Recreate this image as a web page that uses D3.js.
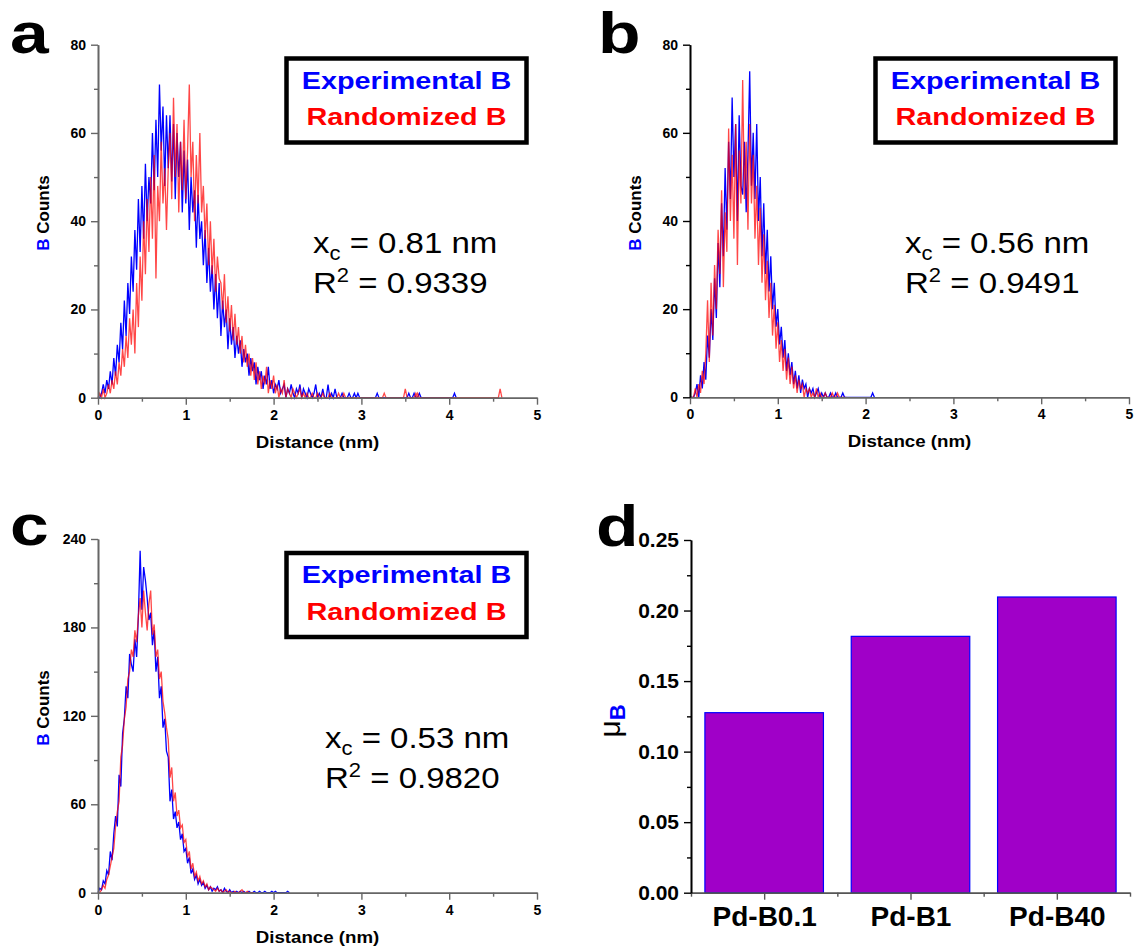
<!DOCTYPE html>
<html>
<head>
<meta charset="utf-8">
<script src="https://cdn.jsdelivr.net/npm/d3@7"></script>
<style>
  body { margin: 0; background: #fff; }
  svg { display: block; }
  text { font-family: "Liberation Sans", Arial, sans-serif; }
</style>
</head>
<body>
<svg id="fig" width="1135" height="949"></svg>
<script>
// ---------------- data ----------------
const binWidth = 0.02; // nm, histogram bin width; value i sits at i * binWidth

// Panel a: Pd-B0.1 (counts per bin from 0 nm)
const expA = [
  0,0,1,3,1,4,2,6,3,9,
  5,12,8,17,11,22,14,26,19,32,
  24,38,29,45,33,48,36,53,40,50,
  44,60,47,63,50,71,56,66,48,64,
  52,64,49,62,45,60,50,58,42,56,
  44,54,38,50,42,47,34,46,36,40,
  30,38,26,34,24,30,20,28,18,26,
  14,22,16,20,11,18,12,16,9,14,
  10,13,7,11,8,10,5,9,6,8,
  3,7,4,6,2,5,3,7,2,4,
  1,3,2,4,1,2,3,0,2,1,
  3,1,0,2,1,3,0,2,1,0,
  2,1,0,1,3,0,1,0,2,0];
const randA = [
  0,1,0,2,0,1,3,1,4,2,
  6,3,8,5,11,7,14,9,18,12,
  20,10,26,16,32,22,40,28,45,33,
  50,36,55,27,48,40,58,44,52,38,
  52,60,45,68,50,62,42,58,47,63,
  45,56,71,50,58,40,55,44,60,42,
  48,36,44,30,40,28,36,24,32,27,
  26,20,28,17,23,15,21,13,19,12,
  16,10,14,8,12,7,10,5,9,4,
  8,3,6,2,5,3,7,1,4,2,
  5,1,3,0,2,1,4,0,2,1,
  0,2,1,0,1,2,0,1,0,1,
  0,0,1,0,0,1,0,0,1,0];
// isolated counts beyond the main peak: [distance nm, count]
const expATail = [[2.62,3],[2.66,1],[2.70,2],[2.78,1],[2.86,1],[2.92,1],[2.96,1],[3.18,1],[3.54,1],[3.60,1],[3.66,1],[4.06,1]];
const randATail = [[2.64,1],[2.74,1],[2.80,1],[3.26,1],[3.50,2],[3.62,1],[3.64,1],[4.58,2]];

// Panel b: Pd-B1
const expB = [
  0,0,0,1,3,0,5,2,8,4,
  14,9,20,13,27,18,35,25,44,32,
  52,38,58,45,68,50,62,40,64,48,
  46,58,42,55,74,48,60,45,62,40,
  50,32,44,28,38,24,32,20,26,16,
  20,12,16,9,13,6,10,5,8,3,
  6,2,5,1,4,2,3,0,2,1,
  2,0,1,2,0,1,0,1,0,0,
  1,0,0,1,0,0,0,1,0,0];
const randB = [
  0,0,0,2,0,3,1,6,3,10,
  22,8,26,14,30,20,38,28,47,25,
  42,33,61,40,55,36,62,30,56,44,
  72,45,58,38,62,44,55,36,48,30,
  43,26,37,22,31,18,26,14,21,11,
  17,8,13,6,11,4,9,3,7,2,
  5,1,4,2,3,0,2,1,2,0,
  1,0,2,0,1,0,0,1,0,0,
  0,1,0,0,1,0,0,0,0,0];
const expBTail = [[2.08,1]];
const randBTail = [];

// Panel c: Pd-B40
const expC = [
  0,3,2,8,6,15,12,28,22,40,
  52,45,80,72,108,118,140,132,162,155,
  150,172,160,188,232,192,221,212,200,185,
  190,168,178,150,160,132,140,112,118,96,
  92,62,70,50,55,44,48,36,40,28,
  30,20,24,13,16,9,12,6,9,5,
  7,3,5,2,4,1,3,2,4,1,
  2,0,3,1,0,2,0,1,0,1,
  0,1,0,1,0,0,1,0,0,1,
  0,0,1,0,0,1,0,0,0,1,
  0,1,0,0,0,0,0,0,1,0];
const randC = [
  0,0,2,5,3,9,12,18,24,30,
  45,55,62,92,100,118,126,145,150,165,
  160,178,170,188,200,180,205,190,178,196,
  205,175,182,160,165,145,150,130,122,112,
  104,78,85,62,68,52,56,44,46,34,
  36,24,28,16,20,11,14,8,11,6,
  8,4,6,2,4,3,2,1,3,1,
  2,0,1,2,0,1,0,0,1,0,
  0,1,2,0,0,1,0,0,0,0];
const expCTail = [];
const randCTail = [];

// Panel d: mean B value per sample
const muCategories = ["Pd-B0.1", "Pd-B1", "Pd-B40"];
const muValues = [0.1276, 0.1817, 0.2096];

// axis ticks
const distTicks = [0, 1, 2, 3, 4, 5];
const distMinor = [0.5, 1.5, 2.5, 3.5, 4.5];
const countTicks80 = [0, 20, 40, 60, 80];
const countMinor80 = [10, 30, 50, 70];
const countTicks240 = [0, 60, 120, 180, 240];
const countMinor240 = [30, 90, 150, 210];
const muTicks = [0, 0.05, 0.10, 0.15, 0.20, 0.25];
const muMinor = [0.025, 0.075, 0.125, 0.175, 0.225];

// text
const legendLabels = ["Experimental B", "Randomized B"];
const fitCentres = ["0.81", "0.56", "0.53"];
const fitR2 = ["0.9339", "0.9491", "0.9820"];
const panelLetters = ["a", "b", "c", "d"];

// ---------------- drawing ----------------
const svg = d3.select("#fig");
const BLUE = "#0000ff", RED = "#ff0000";

function series(head, tail) {
  const pts = head.map((v, i) => [i * binWidth, v]);
  tail.forEach(([x, v]) => {
    pts.push([x - binWidth, 0], [x, v], [x + binWidth, 0]);
  });
  return pts;
}

function axisStyle(g, color) {
  g.select(".domain").attr("stroke", color).attr("stroke-width", 1.6);
  g.selectAll(".tick line").attr("stroke", color).attr("stroke-width", 1.4);
  g.selectAll(".tick text").attr("fill", "#000").style("font-weight", "bold");
}

function histPanel(p) {
  const g = svg.append("g");
  const x = d3.scaleLinear().domain([0, 5]).range([p.left, p.right]);
  const y = d3.scaleLinear().domain([0, p.yMax]).range([p.bottom, p.top]);
  const line = d3.line().x(d => x(d[0])).y(d => y(d[1]));

  g.append("path").datum(series(p.exp, p.expTail))
    .attr("d", line).attr("fill", "none").attr("stroke", BLUE).attr("stroke-width", 1.3);
  g.append("path").datum(series(p.rand, p.randTail))
    .attr("d", line).attr("fill", "none").attr("stroke", RED).attr("stroke-width", 1.3)
    .attr("stroke-opacity", 0.72);

  // minor ticks
  const gxm = g.append("g").attr("transform", `translate(0,${p.bottom})`)
    .call(d3.axisBottom(x).tickValues(distMinor).tickSize(4).tickSizeOuter(0).tickFormat(""));
  axisStyle(gxm, p.xColor);
  const gym = g.append("g").attr("transform", `translate(${p.left},0)`)
    .call(d3.axisLeft(y).tickValues(p.yMinor).tickSize(4).tickSizeOuter(0).tickFormat(""));
  axisStyle(gym, p.yColor);
  // major ticks
  const gx = g.append("g").attr("transform", `translate(0,${p.bottom})`)
    .call(d3.axisBottom(x).tickValues(distTicks).tickSize(7).tickSizeOuter(0).tickPadding(5).tickFormat(d3.format("d")));
  axisStyle(gx, p.xColor);
  gx.selectAll(".tick text").style("font-size", "14px");
  const gy = g.append("g").attr("transform", `translate(${p.left},0)`)
    .call(d3.axisLeft(y).tickValues(p.yTicks).tickSize(7).tickSizeOuter(0).tickPadding(5).tickFormat(d3.format("d")));
  axisStyle(gy, p.yColor);
  gy.selectAll(".tick text").style("font-size", "14px");

  // axis titles
  g.append("g").attr("transform", `translate(${(p.left + p.right) / 2},${p.bottom + 50}) scale(1.1,1)`)
    .append("text").attr("text-anchor", "middle").style("font-size", "17px").style("font-weight", "bold")
    .text("Distance (nm)");
  const yl = g.append("text")
    .attr("transform", `translate(${p.ylabX},${p.ylabY}) rotate(-90)`)
    .attr("text-anchor", "middle").style("font-size", "17px").style("font-weight", "bold");
  yl.append("tspan").attr("fill", BLUE).text("B");
  yl.append("tspan").attr("fill", "#000").text(" Counts");

  // legend box
  g.append("rect").attr("x", p.legX).attr("y", p.legY).attr("width", 240).attr("height", 84)
    .attr("fill", "#fff").attr("stroke", "#000").attr("stroke-width", 4.5);
  const cx = p.legX + 120;
  [BLUE, RED].forEach((c, i) => {
    g.append("g").attr("transform", `translate(${cx},${p.legY + 30 + i * 36.7}) scale(1.2,1)`)
      .append("text").attr("text-anchor", "middle").attr("fill", c)
      .style("font-size", "24px").style("font-weight", "bold").text(legendLabels[i]);
  });

  // fit annotation
  const t1 = g.append("g").attr("transform", `translate(${p.noteX},${p.noteY}) scale(1.1,1)`)
    .append("text").style("font-size", "30px").attr("fill", "#000");
  t1.append("tspan").text("x");
  t1.append("tspan").attr("dy", 7).style("font-size", "20px").text("c");
  t1.append("tspan").attr("dy", -7).text(` = ${fitCentres[p.idx]} nm`);
  const t2 = g.append("g").attr("transform", `translate(${p.noteX},${p.noteY + 39.5}) scale(1.1,1)`)
    .append("text").style("font-size", "30px").attr("fill", "#000");
  t2.append("tspan").text("R");
  t2.append("tspan").attr("dy", -11).style("font-size", "20px").text("2");
  t2.append("tspan").attr("dy", 11).text(` = ${fitR2[p.idx]}`);
}

histPanel({ idx: 0, left: 98, right: 537, top: 44.7, bottom: 397.7, yMax: 80,
  yTicks: countTicks80, yMinor: countMinor80, exp: expA, rand: randA, expTail: expATail, randTail: randATail,
  xColor: "#666", yColor: "#666", ylabX: 48.5, ylabY: 213, legX: 286.5, legY: 58.5, noteX: 313, noteY: 253 });
histPanel({ idx: 1, left: 690, right: 1129, top: 44.7, bottom: 397.3, yMax: 80,
  yTicks: countTicks80, yMinor: countMinor80, exp: expB, rand: randB, expTail: expBTail, randTail: randBTail,
  xColor: "#666", yColor: "#000", ylabX: 641, ylabY: 213, legX: 875.5, legY: 58.5, noteX: 905, noteY: 253 });
histPanel({ idx: 2, left: 98, right: 537, top: 539, bottom: 892.7, yMax: 240,
  yTicks: countTicks240, yMinor: countMinor240, exp: expC, rand: randC, expTail: expCTail, randTail: randCTail,
  xColor: "#666", yColor: "#666", ylabX: 48.5, ylabY: 708, legX: 286.5, legY: 553, noteX: 325, noteY: 748 });

// ---- panel d: bar chart ----
(function () {
  const left = 691, right = 1130, top = 540, bottom = 892.7;
  const g = svg.append("g");
  const x = d3.scaleLinear().domain([0.5, muCategories.length + 0.5]).range([left, right]);
  const y = d3.scaleLinear().domain([0, 0.25]).range([bottom, top]);
  const bw = 0.81;
  g.selectAll("rect.bar").data(muValues).join("rect").attr("class", "bar")
    .attr("x", (d, i) => x(i + 1 - bw / 2)).attr("width", x(1 + bw / 2) - x(1 - bw / 2))
    .attr("y", d => y(d)).attr("height", d => y(0) - y(d))
    .attr("fill", "#a000c8").attr("stroke", BLUE).attr("stroke-width", 1.2);

  const gxm = g.append("g").attr("transform", `translate(0,${bottom})`)
    .call(d3.axisBottom(x).tickValues([0.5, 1.5, 2.5, 3.5]).tickSize(4).tickSizeOuter(0).tickFormat(""));
  axisStyle(gxm, "#555");
  const gx = g.append("g").attr("transform", `translate(0,${bottom})`)
    .call(d3.axisBottom(x).tickValues([1, 2, 3]).tickSize(7).tickSizeOuter(0).tickPadding(6)
      .tickFormat((d) => muCategories[d - 1]));
  axisStyle(gx, "#555");
  gx.selectAll(".tick text").style("font-size", "28px");

  const gym = g.append("g").attr("transform", `translate(${left},0)`)
    .call(d3.axisLeft(y).tickValues(muMinor).tickSize(4).tickSizeOuter(0).tickFormat(""));
  axisStyle(gym, "#000");
  const gy = g.append("g").attr("transform", `translate(${left},0)`)
    .call(d3.axisLeft(y).tickValues(muTicks).tickSize(7).tickSizeOuter(0).tickPadding(5).tickFormat(d3.format(".2f")));
  axisStyle(gy, "#000");
  gy.selectAll(".tick text").style("font-size", "21px");

  const yl = g.append("text").attr("transform", `translate(620,721) rotate(-90)`)
    .attr("text-anchor", "middle");
  yl.append("tspan").attr("fill", "#000").style("font-size", "30px").text("μ");
  yl.append("tspan").attr("fill", BLUE).attr("dy", 5).style("font-size", "22px").style("font-weight", "bold").text("B");
})();

// ---- panel letters ----
[[10, 53], [598, 53], [10, 545], [596, 546]].forEach(([lx, ly], i) => {
  svg.append("g").attr("transform", `translate(${lx},${ly}) scale(1.2,1)`)
    .append("text").style("font-size", "58px").style("font-weight", "bold").attr("fill", "#000")
    .text(panelLetters[i]);
});
</script>
</body>
</html>
